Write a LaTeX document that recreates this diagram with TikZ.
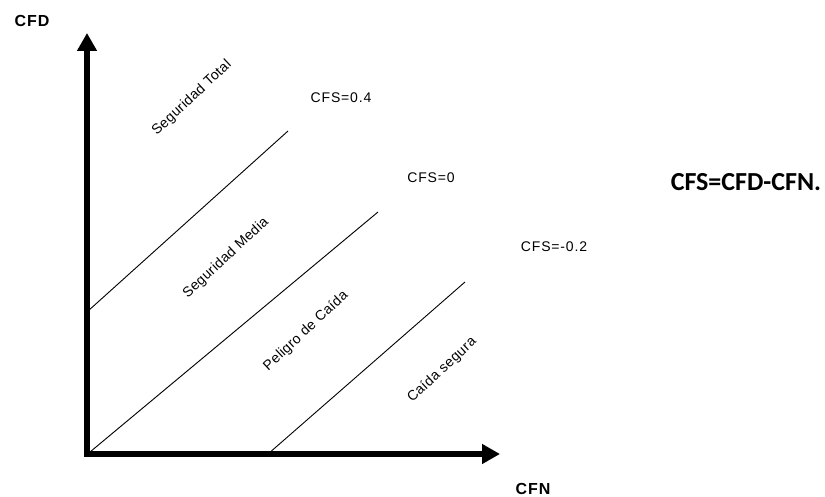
\documentclass[tikz,border=0pt]{standalone}
\usepackage{fontspec}
\setmainfont{Liberation Sans}
\newfontfamily\calibri{Carlito}
\usetikzlibrary{arrows.meta}
\tikzset{
    axis/.style={
        line width=5.5pt,
        line cap=rect,
        -{Triangle[length=18pt,width=19pt]}
    },
    limit/.style={line width=0.9pt},
    zone/.style={font=\fontsize{14}{16}\selectfont\addfontfeatures{LetterSpace=3}, rotate=43},
    cfs/.style={font=\fontsize{14}{16}\selectfont\addfontfeatures{LetterSpace=6}},
    axislabel/.style={inner sep=0pt, font=\bfseries\fontsize{16}{18}\selectfont\addfontfeatures{LetterSpace=6}}
}

\begin{document}
\begin{tikzpicture}[x=1pt,y=-1pt]
	\useasboundingbox (0,0) rectangle (825,497);
	% axes
	\coordinate (o) at (87,454);
	\coordinate (ytop) at (87,33);
	\coordinate (xend) at (500,454);
	\draw[axis] (o) -- (ytop);
	\draw[axis] (o) -- (xend);
	\node[axislabel] (cfd) at (32,21) {CFD};
	\node[axislabel] (cfn) at (533,489) {CFN};
	% iso-CFS lines
	\coordinate (p1) at (88,311);
	\coordinate (q1) at (288,131);
	\coordinate (p2) at (90,452);
	\coordinate (q2) at (378,212);
	\coordinate (p3) at (268,454);
	\coordinate (q3) at (465,282);
	\draw[limit] (p1) -- (q1);
	\draw[limit] (p2) -- (q2);
	\draw[limit] (p3) -- (q3);
	\node[cfs] (c1) at (341,98) {CFS=0.4};
	\node[cfs] (c2) at (431,178) {CFS=0};
	\node[cfs] (c3) at (554,247) {CFS=-0.2};
	% zones
	\node[zone] (z1) at (192,98) {Seguridad Total};
	\node[zone] (z2) at (226,258) {Seguridad Media};
	\node[zone] (z3) at (306,331) {Peligro de Caída};
	\node[zone] (z4) at (442,370) {Caída segura};
	\node[font=\calibri\bfseries\fontsize{26}{30}\selectfont] (eq) at (746,182) {CFS=CFD-CFN.};
\end{tikzpicture}
\end{document}
